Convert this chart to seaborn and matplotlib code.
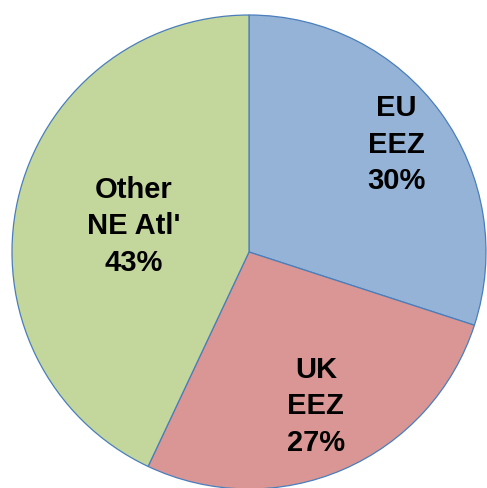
import numpy as np
import matplotlib
matplotlib.use('Agg')
import matplotlib.pyplot as plt
import seaborn as sns

# Share of catch by area
areas = ['EU\nEEZ', 'UK\nEEZ', "Other\nNE Atl'"]
shares = [30, 27, 43]
colors = ['#95b3d7', '#d99694', '#c3d69b']

sns.set_style('white')
plt.rcParams['font.family'] = ['Liberation Sans', 'DejaVu Sans']

fig = plt.figure(figsize=(4.87, 4.88), dpi=100)
ax = fig.add_axes([0, 0, 1, 1])

wedges, texts = ax.pie(shares, colors=colors, startangle=90, counterclock=False,
                       wedgeprops={'edgecolor': '#4a7ebb', 'linewidth': 0.9},
                       labels=[f'{a}\n{s}%' for a, s in zip(areas, shares)],
                       labeldistance=0.7,
                       textprops={'fontsize': 21, 'fontweight': 'bold', 'color': 'black',
                                  'ha': 'center', 'va': 'center', 'linespacing': 1.38})

# label distances from centre, chosen to match the original layout
label_r = [0.77, 0.71, 0.50]
for w, t, r in zip(wedges, texts, label_r):
    ang = np.deg2rad((w.theta1 + w.theta2) / 2)
    t.set_position((r * np.cos(ang), r * np.sin(ang)))
    t.set_ha('center')
    t.set_va('center')

ax.set_xlim(-1.0506, 1.0042)
ax.set_ylim(-0.9958, 1.0633)
ax.set_aspect('equal', adjustable='datalim')
ax.axis('off')

fig.savefig('out.png', dpi=100)
